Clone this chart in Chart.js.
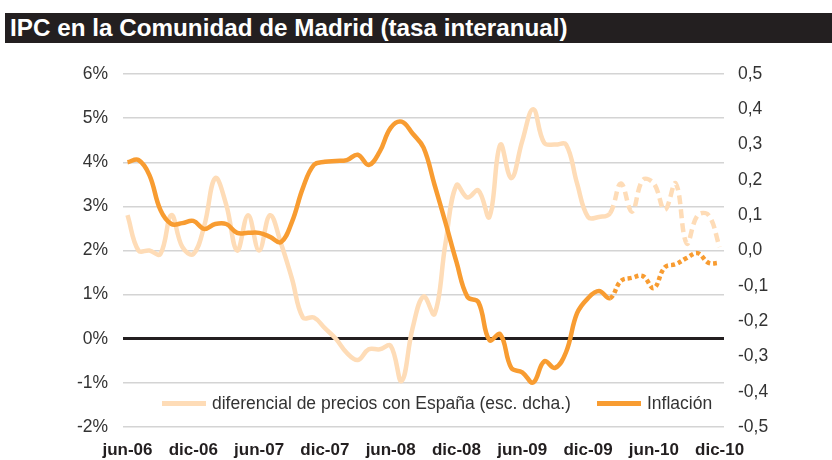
<!DOCTYPE html>
<html>
<head>
<meta charset="utf-8">
<script src="https://cdn.jsdelivr.net/npm/chart.js@4.4.1/dist/chart.umd.min.js"></script>
<style>
  body { margin: 0; background: #fff; }
  #wrap { position: relative; width: 832px; height: 460px; overflow: hidden; }
  #titulo {
    position: absolute; left: 5px; top: 13px; width: 827px; height: 30px;
    background: #231f20; color: #fff;
    font: bold 24px "Liberation Sans", Arial, sans-serif;
    line-height: 30px; white-space: nowrap;
  }
  #titulo span { display: inline-block; padding-left: 5px; transform: scaleX(1.01); transform-origin: left center; }
  #leyenda { position: absolute; top: 393px; left: 0; font: 17.5px "Liberation Sans", Arial, sans-serif; color: #333; }
  .item { position: absolute; white-space: nowrap; display: flex; align-items: center; }
  .sw { display: inline-block; width: 44px; height: 5px; margin-right: 6px; }
  canvas { position: absolute; left: 0; top: 0; }
</style>
</head>
<body>
<div id="wrap">
  <canvas id="ipcChart" width="832" height="460"></canvas>
  <div id="titulo"><span>IPC en la Comunidad de Madrid (tasa interanual)</span></div>
  <div id="leyenda"></div>
</div>
<script>
// meses jun-06 .. dic-10
const MONTHS = [
  'jun-06','jul-06','ago-06','sep-06','oct-06','nov-06','dic-06',
  'ene-07','feb-07','mar-07','abr-07','may-07','jun-07','jul-07','ago-07','sep-07','oct-07','nov-07','dic-07',
  'ene-08','feb-08','mar-08','abr-08','may-08','jun-08','jul-08','ago-08','sep-08','oct-08','nov-08','dic-08',
  'ene-09','feb-09','mar-09','abr-09','may-09','jun-09','jul-09','ago-09','sep-09','oct-09','nov-09','dic-09',
  'ene-10','feb-10','mar-10','abr-10','may-10','jun-10','jul-10','ago-10','sep-10','oct-10','nov-10','dic-10'
];
const TICK_LABELS = ['jun-06','dic-06','jun-07','dic-07','jun-08','dic-08','jun-09','dic-09','jun-10','dic-10'];

// Inflación (%), eje izquierdo
const INFLACION = [
  4.00, 4.05, 3.71, 2.92, 2.60, 2.62, 2.67, 2.49, 2.60, 2.60,
  2.40, 2.40, 2.40, 2.31, 2.19, 2.65, 3.42, 3.94, 4.01, 4.03,
  4.05, 4.17, 3.94, 4.24, 4.78, 4.92, 4.65, 4.33, 3.49, 2.63,
  1.74, 0.95, 0.83, -0.03, 0.10, -0.66, -0.76, -0.99, -0.51, -0.66,
  -0.30, 0.58, 0.92, 1.08, 0.92, 1.31, 1.38, 1.42, 1.15, 1.62,
  1.69, 1.83, 1.94, 1.72, 1.72
];
// diferencial con España (p.p.), eje derecho
const DIFERENCIAL = [
  0.10, 0.00, 0.00, -0.01, 0.10, 0.01, -0.01, 0.07, 0.205, 0.13,
  0.00, 0.10, 0.00, 0.10, 0.02, -0.08, -0.19, -0.19, -0.22, -0.25,
  -0.29, -0.31, -0.28, -0.28, -0.27, -0.37, -0.22, -0.13, -0.18, 0.02,
  0.185, 0.15, 0.17, 0.095, 0.30, 0.205, 0.31, 0.40, 0.305, 0.30,
  0.30, 0.19, 0.095, 0.095, 0.105, 0.19, 0.11, 0.20, 0.19, 0.115,
  0.19, 0.02, 0.10, 0.10, 0.01
];
const DASH_FROM = 44; // tramo final discontinuo

const LEFT_TICKS = [-2, -1, 0, 1, 2, 3, 4, 5, 6];
const RIGHT_TICKS = [-0.5, -0.4, -0.3, -0.2, -0.1, 0, 0.1, 0.2, 0.3, 0.4, 0.5];

const C_INF = '#f89c31';
const C_DIF = '#fedcb7';
const FONT = "'Liberation Sans', Arial, sans-serif";

const datasets = [
  {
    label: 'diferencial de precios con España (esc. dcha.)',
    data: DIFERENCIAL.map((v, i) => ({ x: i, y: v })),
    yAxisID: 'y2',
    borderColor: C_DIF,
    borderWidth: 4.5,
    pointRadius: 0,
    tension: 0.4,
    order: 1,
    segment: { borderDash: ctx => ctx.p0DataIndex >= DASH_FROM ? [9, 5] : undefined }
  },
  {
    label: 'Inflación',
    data: INFLACION.map((v, i) => ({ x: i, y: v })),
    yAxisID: 'y',
    borderColor: C_INF,
    borderWidth: 4.5,
    pointRadius: 0,
    tension: 0.4,
    order: 0,
    segment: { borderDash: ctx => ctx.p0DataIndex >= DASH_FROM ? [4, 3] : undefined }
  }
];

new Chart(document.getElementById('ipcChart'), {
  type: 'line',
  data: { datasets },
  options: {
    responsive: false,
    animation: false,
    layout: { padding: { top: 74, left: 0, right: 0, bottom: 0 } },
    plugins: { legend: { display: false }, tooltip: { enabled: false } },
    scales: {
      x: {
        type: 'linear',
        min: -0.41,
        max: 54.4,
        grid: { display: false },
        border: { display: false },
        afterBuildTicks: s => { s.ticks = TICK_LABELS.map(l => ({ value: MONTHS.indexOf(l) })); },
        afterFit: s => { s.height = 33; },
        ticks: {
          autoSkip: false, maxRotation: 0, padding: 5,
          color: '#231f20', font: { family: FONT, size: 17, weight: 'bold' },
          callback: v => MONTHS[v]
        }
      },
      y: {
        position: 'left',
        min: -2, max: 6,
        afterBuildTicks: s => { s.ticks = LEFT_TICKS.map(v => ({ value: v })); },
        afterFit: s => { s.width = 123; },
        border: { display: false },
        grid: {
          drawTicks: false,
          color: c => c.tick.value === 0 ? '#231f20' : '#d4d4d4',
          lineWidth: c => c.tick.value === 0 ? 3 : 1.5
        },
        ticks: { padding: 15, color: '#333', font: { family: FONT, size: 17.5 }, callback: v => v + '%' }
      },
      y2: {
        position: 'right',
        min: -0.5, max: 0.5,
        afterBuildTicks: s => { s.ticks = RIGHT_TICKS.map(v => ({ value: v })); },
        afterFit: s => { s.width = 108; },
        border: { display: false },
        grid: { display: false, drawTicks: false },
        ticks: { padding: 14, color: '#333', font: { family: FONT, size: 17.5 }, callback: v => v.toFixed(1).replace('.', ',') }
      }
    }
  }
});

// leyenda dentro del área del gráfico
const leg = document.getElementById('leyenda');
const legX = [162, 597];
datasets.forEach((d, k) => {
  const it = document.createElement('div');
  it.className = 'item';
  it.style.left = legX[k] + 'px';
  it.innerHTML = '<span class="sw" style="background:' + d.borderColor + '"></span><span>' + d.label + '</span>';
  leg.appendChild(it);
});
</script>
</body>
</html>
